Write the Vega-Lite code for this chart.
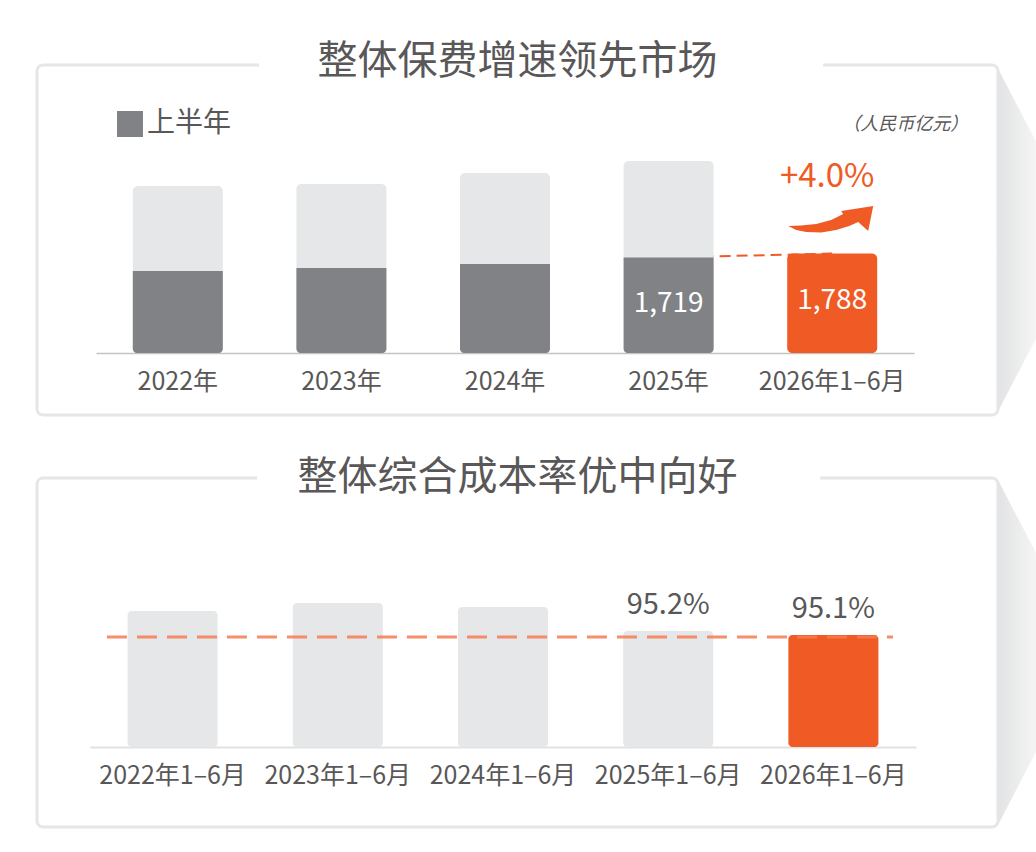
{
  "$schema": "https://vega.github.io/schema/vega-lite/v6.json",
  "autosize": {"type": "pad"},
  "padding": {"left": 35, "top": 42, "right": 0, "bottom": 0},
  "background": "white",
  "config": {"font": "Noto Sans CJK SC", "view": {"stroke": null}, "axis": {"grid": false}},
  "spacing": 63,
  "bounds": "flush",
  "vconcat": [
    {
      "width": 961,
      "height": 350,
      "resolve": {"scale": {"x": "independent", "y": "independent", "color": "independent"}},
      "layer": [
        {
          "data": {"values": [{}]},
          "layer": [
            {
              "mark": {"type": "point", "shape": "M0,-1 L0.52,0 L0,1 Z", "size": 117649, "filled": true, "opacity": 1, "strokeWidth": 0,
                "fill": {"gradient": "linear", "x1": 0, "y1": 0, "x2": 1, "y2": 0, "stops": [{"offset": 0, "color": "#e2e3e4"}, {"offset": 0.44, "color": "#f5f5f5"}, {"offset": 1, "color": "#ffffff"}]}},
              "encoding": {
                "x": {"datum": 1, "type": "quantitative", "scale": {"domain": [0, 1], "nice": false}, "axis": null},
                "y": {"datum": 0.5, "type": "quantitative", "scale": {"domain": [0, 1], "nice": false}, "axis": null}
              }
            },
            {
              "mark": {"type": "rect", "fill": "transparent", "stroke": "#e6e6e7", "strokeWidth": 3, "cornerRadius": 6},
              "encoding": {
                "x": {"datum": 0, "type": "quantitative", "axis": null},
                "x2": {"datum": 1},
                "y": {"datum": 0, "type": "quantitative", "axis": null},
                "y2": {"datum": 1}
              }
            },
            {
              "mark": {"type": "rule", "stroke": "white", "strokeWidth": 8},
              "encoding": {
                "x": {"datum": 0.231, "type": "quantitative", "axis": null},
                "x2": {"datum": 0.818},
                "y": {"datum": 1, "type": "quantitative", "axis": null}
              }
            },
            {
              "mark": {"type": "text", "fontSize": 40, "color": "#595757", "baseline": "middle", "align": "center", "dy": -3},
              "encoding": {
                "x": {"datum": 0.5, "type": "quantitative", "axis": null},
                "y": {"datum": 1, "type": "quantitative", "axis": null},
                "text": {"value": "整体保费增速领先市场"}
              }
            },
            {
              "mark": {"type": "text", "fontSize": 18, "fontStyle": "italic", "color": "#595757", "baseline": "middle", "align": "right"},
              "encoding": {
                "x": {"datum": 0.969, "type": "quantitative", "axis": null},
                "y": {"datum": 0.828, "type": "quantitative", "axis": null},
                "text": {"value": "（人民币亿元）"}
              }
            }
          ]
        },
        {
          "data": {"values": [
            {"year": "2022年", "half": 1475, "full": 3004},
            {"year": "2023年", "half": 1529, "full": 3040},
            {"year": "2024年", "half": 1601, "full": 3237},
            {"year": "2025年", "half": 1719, "full": 3453, "label": "1,719"},
            {"year": "2026年1–6月", "half": 1788, "label": "1,788", "growth": "+4.0%"}
          ]},
          "encoding": {
            "x": {"field": "year", "type": "nominal", "sort": null,
              "scale": {"domain": ["2022年", "2023年", "2024年", "2025年", "2026年1–6月"], "range": [59, 877], "paddingInner": 0.45, "paddingOuter": 0.225},
              "axis": {"title": null, "domainColor": "#c4c4c4", "domainWidth": 1.5, "ticks": false, "tickSize": 0, "labelFontSize": 25, "labelColor": "#595757", "labelPadding": 28, "labelBaseline": "middle", "labelAngle": 0, "offset": -62}}
          },
          "layer": [
            {
              "transform": [{"filter": "datum.year === '2025年' || datum.year === '2026年1–6月'"}],
              "mark": {"type": "line", "color": "#f05a24", "strokeWidth": 2, "strokeDash": [11, 6]},
              "encoding": {
                "y": {"field": "half", "type": "quantitative", "scale": {"domain": [-1115, 5180], "nice": false, "zero": false}, "axis": null}
              }
            },
            {
              "transform": [{"filter": "isValid(datum.full)"}],
              "mark": {"type": "bar", "color": "#e6e7e8", "cornerRadius": 5},
              "encoding": {
                "y": {"field": "full", "type": "quantitative", "stack": null}
              }
            },
            {
              "transform": [{"filter": "datum.year !== '2026年1–6月'"}],
              "mark": {"type": "bar", "cornerRadiusBottomLeft": 4, "cornerRadiusBottomRight": 4},
              "encoding": {
                "y": {"field": "half", "type": "quantitative", "stack": null},
                "color": {"datum": "上半年", "scale": {"range": ["#808285"]},
                  "legend": {"orient": "none", "legendX": 79, "legendY": 45, "title": null, "symbolType": "square", "symbolSize": 676, "symbolStrokeWidth": 0, "symbolOpacity": 1, "labelFontSize": 28, "labelColor": "#595757", "labelOffset": 3, "padding": 0}}
              }
            },
            {
              "transform": [{"filter": "datum.year === '2026年1–6月'"}],
              "mark": {"type": "bar", "color": "#f05a24", "cornerRadius": 5},
              "encoding": {
                "y": {"field": "half", "type": "quantitative", "stack": null}
              }
            },
            {
              "transform": [{"filter": "isValid(datum.label)"}],
              "mark": {"type": "text", "color": "white", "fontSize": 28, "baseline": "middle", "dy": 47},
              "encoding": {
                "y": {"field": "half", "type": "quantitative"},
                "text": {"field": "label"}
              }
            },
            {
              "transform": [{"filter": "isValid(datum.growth)"}],
              "mark": {"type": "text", "color": "#f05a24", "fontSize": 33, "baseline": "middle", "dy": -77, "dx": -5},
              "encoding": {
                "y": {"field": "half", "type": "quantitative"},
                "text": {"field": "growth"}
              }
            },
            {
              "transform": [{"filter": "isValid(datum.growth)"}],
              "mark": {"type": "point", "filled": true, "opacity": 1, "strokeWidth": 0, "fill": "#f05a24", "size": 7396, "yOffset": -35.6, "xOffset": -1,
                "shape": "M-1,0.186 L-0.698,0.174 L-0.349,0.14 L0,0.047 L0.279,-0.093 L0.233,-0.163 L0.977,-0.279 L0.86,0.302 L0.628,0.093 L0.419,0.186 L0.116,0.279 L-0.233,0.337 L-0.581,0.326 L-0.814,0.279 Z"},
              "encoding": {
                "y": {"field": "half", "type": "quantitative"}
              }
            }
          ]
        }
      ]
    },
    {
      "width": 961,
      "height": 349,
      "resolve": {"scale": {"x": "independent", "y": "independent"}},
      "layer": [
        {
          "data": {"values": [{}]},
          "layer": [
            {
              "mark": {"type": "point", "shape": "M0,-1 L0.52,0 L0,1 Z", "size": 119025, "filled": true, "opacity": 1, "strokeWidth": 0,
                "fill": {"gradient": "linear", "x1": 0, "y1": 0, "x2": 1, "y2": 0, "stops": [{"offset": 0, "color": "#e2e3e4"}, {"offset": 0.44, "color": "#f5f5f5"}, {"offset": 1, "color": "#ffffff"}]}},
              "encoding": {
                "x": {"datum": 1, "type": "quantitative", "scale": {"domain": [0, 1], "nice": false}, "axis": null},
                "y": {"datum": 0.5, "type": "quantitative", "scale": {"domain": [0, 1], "nice": false}, "axis": null}
              }
            },
            {
              "mark": {"type": "rect", "fill": "transparent", "stroke": "#e6e6e7", "strokeWidth": 3, "cornerRadius": 6},
              "encoding": {
                "x": {"datum": 0, "type": "quantitative", "axis": null},
                "x2": {"datum": 1},
                "y": {"datum": 0, "type": "quantitative", "axis": null},
                "y2": {"datum": 1}
              }
            },
            {
              "mark": {"type": "rule", "stroke": "white", "strokeWidth": 8},
              "encoding": {
                "x": {"datum": 0.229, "type": "quantitative", "axis": null},
                "x2": {"datum": 0.815},
                "y": {"datum": 1, "type": "quantitative", "axis": null}
              }
            },
            {
              "mark": {"type": "text", "fontSize": 40, "color": "#595757", "baseline": "middle", "align": "center"},
              "encoding": {
                "x": {"datum": 0.5, "type": "quantitative", "axis": null},
                "y": {"datum": 1, "type": "quantitative", "axis": null},
                "text": {"value": "整体综合成本率优中向好"}
              }
            }
          ]
        },
        {
          "data": {"values": [
            {"period": "2022年1–6月", "rate": 95.7},
            {"period": "2023年1–6月", "rate": 95.9},
            {"period": "2024年1–6月", "rate": 95.8},
            {"period": "2025年1–6月", "rate": 95.2, "label": "95.2%"},
            {"period": "2026年1–6月", "rate": 95.1, "label": "95.1%"}
          ]},
          "encoding": {
            "x": {"field": "period", "type": "nominal", "sort": null,
              "scale": {"domain": ["2022年1–6月", "2023年1–6月", "2024年1–6月", "2025年1–6月", "2026年1–6月"], "range": [53, 879], "paddingInner": 0.455, "paddingOuter": 0.2275},
              "axis": {"title": null, "domainColor": "#e2e2e2", "domainWidth": 2, "ticks": false, "tickSize": 0, "labelFontSize": 25, "labelColor": "#595757", "labelPadding": 28, "labelBaseline": "middle", "labelAngle": 0, "offset": -80}}
          },
          "layer": [
            {
              "mark": {"type": "bar", "cornerRadius": 4},
              "encoding": {
                "y": {"field": "rate", "type": "quantitative", "scale": {"domain": [90.3, 99.025], "nice": false, "zero": false}, "axis": null},
                "y2": {"datum": 92.3},
                "color": {"condition": {"test": "datum.period === '2026年1–6月'", "value": "#f05a24"}, "value": "#e6e7e8"}
              }
            },
            {
              "transform": [{"filter": "datum.period === '2026年1–6月'"}],
              "mark": {"type": "rule", "color": "#f47b50", "strokeWidth": 3, "strokeDash": [20, 10], "opacity": 0.85, "yOffset": 2},
              "encoding": {
                "x": {"datum": "2022年1–6月", "type": "nominal", "bandPosition": -0.229},
                "x2": {"datum": "2026年1–6月", "bandPosition": 1.162},
                "y": {"field": "rate", "type": "quantitative"}
              }
            },
            {
              "transform": [{"filter": "isValid(datum.label)"}],
              "mark": {"type": "text", "color": "#595757", "fontSize": 29, "baseline": "middle", "dy": -26},
              "encoding": {
                "y": {"field": "rate", "type": "quantitative"},
                "text": {"field": "label"}
              }
            }
          ]
        }
      ]
    }
  ]
}
